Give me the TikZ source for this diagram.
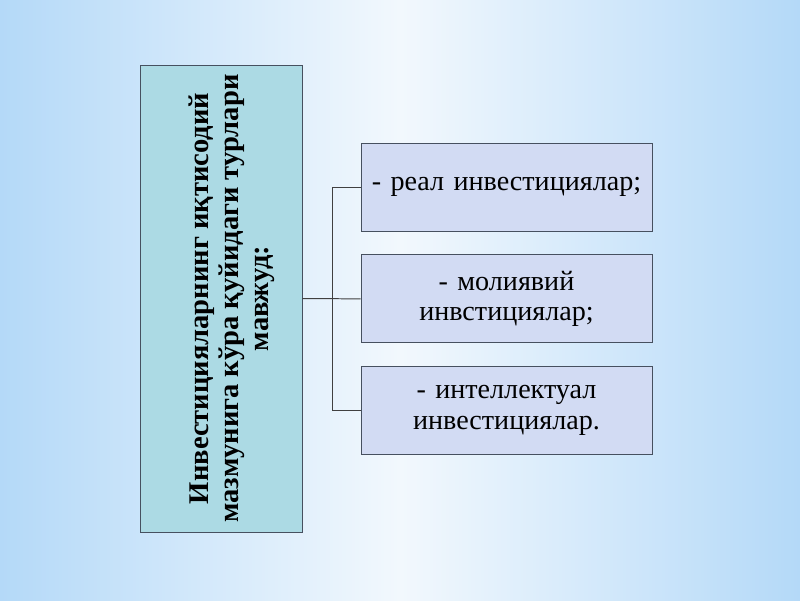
\documentclass[tikz,border=0pt]{standalone}
\usepackage{fontspec}
\setmainfont{Liberation Serif}
\usetikzlibrary{positioning}

\definecolor{bgedge}{RGB}{180,217,248}
\definecolor{bgmid}{RGB}{242,248,253}
\definecolor{tealbox}{RGB}{172,218,228}
\definecolor{lilacbox}{RGB}{210,219,243}
\definecolor{boxline}{RGB}{70,80,95}

\begin{document}
\begin{tikzpicture}[x=0.025cm, y=-0.025cm,
    kind/.style={draw=boxline, line width=0.6pt, fill=lilacbox,
        minimum width=7.275cm, minimum height=2.2cm, text width=7cm,
        align=center, font=\fontsize{20}{22}\selectfont, inner sep=2pt},
    link/.style={draw=black!75, line width=0.7pt}]
    % background
    \shade[left color=bgedge, right color=bgedge, middle color=bgmid]
        (0,0) rectangle (800,600);
    \useasboundingbox (0,0) rectangle (800,600);

    % main box, text turned upwards
    \node[draw=boxline, line width=0.6pt, fill=tealbox, rotate=90,
        minimum width=11.675cm, minimum height=4.05cm, align=center,
        inner sep=0pt, font=\bfseries\fontsize{20.3}{21.5}\selectfont]
        (main) at (221,298.5)
        {\rule{0pt}{29pt}Инвестицияларнинг иқтисодий\\ мазмунига кўра қуйидаги турлари\\ мавжуд:};

    % the three kinds
    \node[kind] (real) at (506.5,187) {- реал инвестициялар;};
    \node[kind, below=0.575cm of real] (moliya) {- молиявий\\ инвстициялар;};
    \node[kind, below=0.575cm of moliya] (intel) {- интеллектуал\\ инвестициялар.};

    % connectors
    \coordinate (hub) at (332,298);
    \draw[link] (main.south) -- (moliya.west);
    \draw[link] (real.west) -- (real.west -| hub) -- (intel.west -| hub) -- (intel.west);
\end{tikzpicture}
\end{document}
